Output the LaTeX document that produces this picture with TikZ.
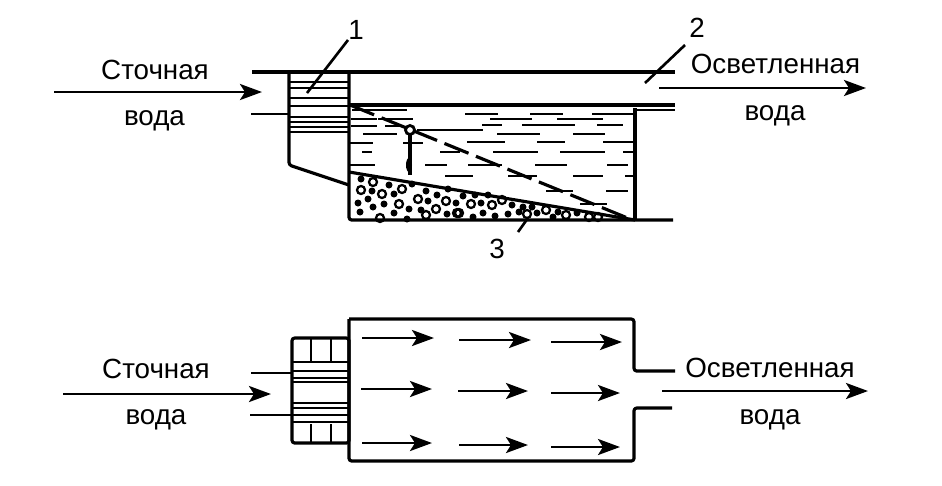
\documentclass[tikz,border=0pt]{standalone}
\usepackage{fontspec}
\setmainfont{Liberation Sans}
\usetikzlibrary{arrows.meta}

\tikzset{
    wall/.style={line width=1.8pt, line join=round, rounded corners=1.5pt},
    thinwall/.style={line width=1.6pt},
    leader/.style={line width=1.5pt},
    water/.style={line width=1.5pt},
    flow/.style={line width=1.6pt, -{Stealth[length=0.44cm, width=0.32cm, inset=0.1cm]}},
    caption/.style={font=\fontsize{15.8}{18}\selectfont, inner sep=0pt, anchor=base},
    mark label/.style={font=\fontsize{15.8}{18}\selectfont, inner sep=0pt}
}

\begin{document}
\begin{tikzpicture}[x=0.02cm, y=-0.02cm]
        \useasboundingbox (0,0) rectangle (942,485);

        % section
        \draw[wall] (252,72)--(675,72);
        \draw[wall] (349,105)--(675,105);
        \draw[thinwall] (635,110)--(675,110);
        \draw[thinwall] (251,114)--(289,114);
        \draw[wall] (289,72)--(289,165)--(349,185);
        \draw[wall] (349,72)--(349,220)--(673,220);
        \draw[wall] (635,108)--(635,220);
        \draw[wall] (349,172)--(635,220);
        \foreach \y in {82,88,98,106,117,122,127,132} {
            \draw[thinwall] (289,\y)--(349,\y);
        }
        \foreach \xa/\xb/\y in {352/407/110,465/498/114,530/563/114,592/633/114,351/377/119,378/413/119,490/532/119,557/603/119,351/377/126,385/403/126,482/502/125,522/575/125,597/623/125,417/483/130,363/397/134,497/540/134,573/605/134,350/373/143,403/423/143,467/505/142,537/565/142,603/633/142,362/372/152,440/460/152,493/538/152,560/605/152,623/634/152,350/375/165,425/447/165,468/502/165,535/567/165,607/628/165,445/473/176,508/537/176,573/603/176,625/634/176,546/573/191,606/628/191,580/607/204} {
            \draw[water] (\xa,\y)--(\xb,\y);
        }
        \draw[wall, dash pattern=on 0.52cm off 0.16cm] (350,105)--(630,219);
        \draw[wall] (410,134)--(410,175);
        \fill (409,165) ellipse [x radius=3, y radius=7];
        \filldraw[thinwall, fill=white] (410,130) circle [radius=4.5];
        \foreach \x/\y in {361/190,382/194,402/189,399/204,418/199,446/201,436/209,380/218,426/215,373/182,457/213,471/204,492/205,502/200,459/213,527/214,546/210,566/215,589/217,598/217} {
            \draw[line width=1.3pt] (\x,\y) circle [radius=4];
        }
        \foreach \x/\y in {361/179,389/185,412/184,372/191,394/194,426/191,437/195,448/189,358/203,368/199,373/207,384/204,360/212,394/213,409/209,428/201,421/210,447/214,456/203,407/219,463/196,475/195,488/195,481/203,512/205,523/207,532/207,473/217,483/213,495/216,508/214,519/212,537/213,553/217,558/212,577/213} {
            \fill (\x,\y) circle [radius=3.5];
        }

        \node[mark label] (markone) at (356,30) {1};
        \node[mark label] (marktwo) at (697,28) {2};
        \node[mark label] (markthree) at (497,249) {3};
        \coordinate (leadone) at (307,93);
        \coordinate (leadtwo) at (645,83);
        \coordinate (leadthree) at (528,218);
        \coordinate (leadthreeb) at (518,232);
        \draw[leader] (348,40)--(leadone);
        \draw[leader] (685,45)--(leadtwo);
        \draw[leader] (leadthree)--(leadthreeb);

        \node[caption] (topin) at (155,79) {Сточная};
        \node[caption] (topinb) at (154.5,125) {вода};
        \node[caption] (topout) at (775.5,73) {Осветленная};
        \node[caption] (topoutb) at (775,120) {вода};
        \coordinate (topa) at (54,92);
        \coordinate (topb) at (262,92);
        \coordinate (topc) at (659,88);
        \coordinate (topd) at (866,88);
        \draw[flow] (topa)--(topb);
        \draw[flow] (topc)--(topd);

        % plan
        \draw[wall] (349,319)--(634,319)--(634,371)--(675,371);
        \draw[wall] (349,319)--(349,461)--(634,461)--(634,408)--(672,408);
        \draw[wall] (292,338) rectangle (349,443);
        \foreach \x in {311,331} {
            \draw[thinwall] (\x,338)--(\x,361);
            \draw[thinwall] (\x,424)--(\x,443);
        }
        \foreach \y in {362,371,378,382,403,408,415,422} {
            \draw[thinwall] (292,\y)--(349,\y);
        }
        \draw[thinwall] (251,373)--(292,373);
        \draw[thinwall] (250,415)--(292,415);
        \foreach \xa/\xb/\y in {362/434/338,459/531/340,551/622/342,361/432/389,458/528/391,551/620/393,362/432/443,459/528/445,551/620/447} {
            \draw[flow] (\xa,\y)--(\xb,\y);
        }

        \node[caption] (lowin) at (156,378) {Сточная};
        \node[caption] (lowinb) at (156,424) {вода};
        \node[caption] (lowout) at (770,377) {Осветленная};
        \node[caption] (lowoutb) at (770,424) {вода};
        \coordinate (lowa) at (63,394);
        \coordinate (lowb) at (271,394);
        \coordinate (lowc) at (662,391);
        \coordinate (lowd) at (868,391);
        \draw[flow] (lowa)--(lowb);
        \draw[flow] (lowc)--(lowd);
    \end{tikzpicture}
\end{document}
